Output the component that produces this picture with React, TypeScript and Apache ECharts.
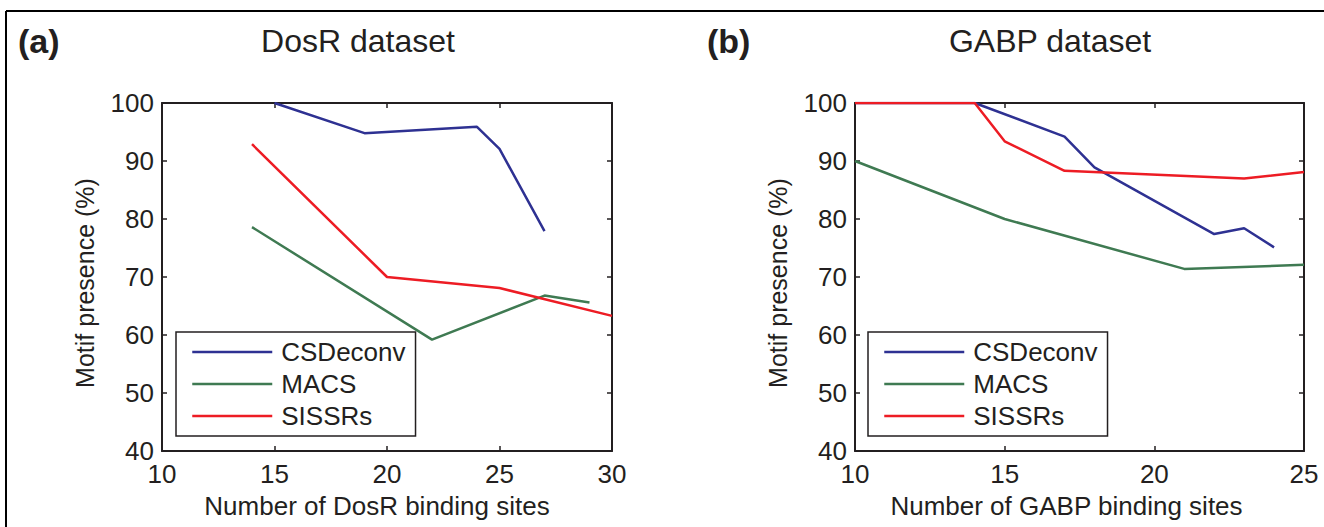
import React, { useEffect, useRef } from "react";
import * as echarts from "echarts";

// ---- data ----
const seriesNames = ["CSDeconv", "MACS", "SISSRs"];
const seriesColors = ["#2e3192", "#3f7a52", "#ed1c24"];

// Panel (a) DosR dataset
const dosrCsdX = [15, 19, 24, 25, 27];
const dosrCsdY = [100, 94.8, 95.9, 92.1, 77.9];
const dosrMacsX = [14, 22, 27, 29];
const dosrMacsY = [78.6, 59.2, 66.8, 65.6];
const dosrSissrsX = [14, 20, 25, 30];
const dosrSissrsY = [92.9, 70.0, 68.1, 63.3];

// Panel (b) GABP dataset
const gabpCsdX = [10, 14, 17, 18, 22, 23, 24];
const gabpCsdY = [100, 100, 94.2, 88.9, 77.4, 78.4, 75.1];
const gabpMacsX = [10, 15, 21, 25];
const gabpMacsY = [90, 80, 71.4, 72.1];
const gabpSissrsX = [10, 14, 15, 17, 23, 25];
const gabpSissrsY = [100, 100, 93.4, 88.3, 87.0, 88.1];

const panelLetters = ["(a)", "(b)"];
const panelTitles = ["DosR dataset", "GABP dataset"];
const xNames = ["Number of DosR binding sites", "Number of GABP binding sites"];
const yName = "Motif presence (%)";
const xMins = [10, 10];
const xMaxs = [30, 25];
const xInterval = 5;
const yMin = 40;
const yMax = 100;
const yInterval = 10;

const ink = "#231f20";
const font = "'Liberation Sans', Arial, Helvetica, sans-serif";

const pairs = (xs: number[], ys: number[]) => xs.map((x, i) => [x, ys[i]]);

export default function App() {
  const ref = useRef<HTMLDivElement>(null);

  useEffect(() => {
    if (!ref.current) return;
    const chart = echarts.init(ref.current, undefined, { renderer: "svg" });

    const grids = [
      { left: 162, top: 103, width: 450, height: 348 },
      { left: 855, top: 103, width: 449, height: 348 },
    ];

    const axisLine = { show: true, onZero: false, lineStyle: { color: ink, width: 2 } };
    const axisTick = { show: true, inside: true, length: 5, lineStyle: { color: ink, width: 1.5 } };

    const xAxis: any[] = [];
    const yAxis: any[] = [];
    grids.forEach((_, g) => {
      xAxis.push({
        type: "value",
        gridIndex: g,
        position: "bottom",
        min: xMins[g],
        max: xMaxs[g],
        interval: xInterval,
        axisLine,
        axisTick,
        splitLine: { show: false },
        axisLabel: { color: ink, fontSize: 26, margin: 10, fontFamily: font },
        name: xNames[g],
        nameLocation: "middle",
        nameGap: 42,
        nameTextStyle: {
          color: ink,
          fontSize: 26,
          fontFamily: font,
          padding: [0, g === 0 ? 20 : 26, 0, 0],
        },
      });
      xAxis.push({
        type: "value",
        gridIndex: g,
        position: "top",
        min: xMins[g],
        max: xMaxs[g],
        interval: xInterval,
        axisLine,
        axisTick,
        splitLine: { show: false },
        axisLabel: { show: false },
      });
      yAxis.push({
        type: "value",
        gridIndex: g,
        position: "left",
        min: yMin,
        max: yMax,
        interval: yInterval,
        axisLine,
        axisTick,
        splitLine: { show: false },
        axisLabel: { color: ink, fontSize: 26, margin: 8, fontFamily: font },
        name: yName,
        nameLocation: "middle",
        nameGap: 65,
        nameRotate: 90,
        nameTextStyle: { color: ink, fontSize: 25, fontFamily: font, padding: [0, 12, 0, 0] },
      });
      yAxis.push({
        type: "value",
        gridIndex: g,
        position: "right",
        min: yMin,
        max: yMax,
        interval: yInterval,
        axisLine,
        axisTick,
        splitLine: { show: false },
        axisLabel: { show: false },
      });
    });

    const panelData = [
      [pairs(dosrCsdX, dosrCsdY), pairs(dosrMacsX, dosrMacsY), pairs(dosrSissrsX, dosrSissrsY)],
      [pairs(gabpCsdX, gabpCsdY), pairs(gabpMacsX, gabpMacsY), pairs(gabpSissrsX, gabpSissrsY)],
    ];

    const series: any[] = [];
    panelData.forEach((sets, g) => {
      sets.forEach((data, i) => {
        series.push({
          type: "line",
          name: seriesNames[i],
          xAxisIndex: g * 2,
          yAxisIndex: g * 2,
          data,
          symbol: "none",
          color: seriesColors[i],
          lineStyle: { color: seriesColors[i], width: 2.5 },
          z: 3,
        });
      });
    });

    const legendBase = {
      orient: "vertical",
      top: 332,
      padding: [7, 10, 7, 15],
      itemWidth: 80,
      itemHeight: 26,
      itemGap: 6,
      data: seriesNames,
      selectedMode: false,
      itemStyle: { opacity: 0 },
      lineStyle: { width: 2.5 },
      textStyle: { color: ink, fontSize: 26, fontFamily: font, padding: [0, 0, 0, 4] },
      borderColor: ink,
      borderWidth: 1.5,
      borderRadius: 0,
      backgroundColor: "#ffffff",
      z: 5,
    };

    const titleCenters = [358, 1050];
    const letterLefts = [18, 707];

    chart.setOption({
      animation: false,
      backgroundColor: "#ffffff",
      title: [
        ...panelLetters.map((t, g) => ({
          text: t,
          left: letterLefts[g],
          top: 24,
          padding: 0,
          textStyle: { color: ink, fontSize: 34, fontWeight: "bold", fontFamily: font },
        })),
        ...panelTitles.map((t, g) => ({
          text: t,
          left: titleCenters[g],
          textAlign: "center",
          top: 25,
          padding: 0,
          textStyle: { color: ink, fontSize: 32, fontWeight: "normal", fontFamily: font },
        })),
      ],
      grid: grids.map((g) => ({ ...g, containLabel: false })),
      xAxis,
      yAxis,
      legend: [
        { ...legendBase, left: 176 },
        { ...legendBase, left: 868 },
      ],
      graphic: [
        { type: "line", shape: { x1: 6, y1: 11, x2: 1324, y2: 11 }, style: { stroke: "#000", lineWidth: 2 } },
        { type: "line", shape: { x1: 6, y1: 11, x2: 6, y2: 527 }, style: { stroke: "#000", lineWidth: 2 } },
      ],
      series,
    });

    return () => chart.dispose();
  }, []);

  return (
    <div
      ref={ref}
      style={{ position: "absolute", left: 0, top: 0, width: 1324, height: 527 }}
    />
  );
}
